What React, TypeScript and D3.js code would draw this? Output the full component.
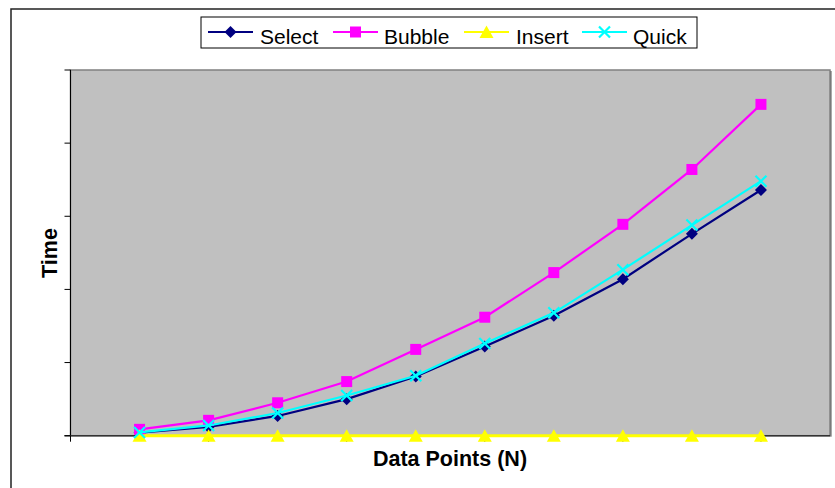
import React from "react";
import * as d3 from "d3";

const xValues = [1, 2, 3, 4, 5, 6, 7, 8, 9, 10];
const selectValues = [0.04, 0.12, 0.27, 0.5, 0.81, 1.22, 1.64, 2.14, 2.76, 3.36];
const bubbleValues = [0.087, 0.21, 0.45, 0.74, 1.18, 1.62, 2.23, 2.89, 3.64, 4.53];
const insertValues = [0, 0, 0, 0, 0, 0, 0, 0, 0, 0];
const quickValues = [0.045, 0.14, 0.31, 0.55, 0.82, 1.26, 1.68, 2.27, 2.88, 3.48];
const xTicks = [0, 2, 4, 6, 8, 10];
const yTicks = [0, 1, 2, 3, 4, 5];
const seriesNames = ["Select", "Bubble", "Insert", "Quick"];

const W = 835;
const H = 488;
const plot = { left: 70.5, top: 70, right: 830, bottom: 435.7 };

type Series = { name: string; values: number[]; color: string; marker: string };

const series: Series[] = [
  { name: seriesNames[0], values: selectValues, color: "#000080", marker: "diamond" },
  { name: seriesNames[1], values: bubbleValues, color: "#FF00FF", marker: "square" },
  { name: seriesNames[2], values: insertValues, color: "#FFFF00", marker: "triangle" },
  { name: seriesNames[3], values: quickValues, color: "#00FFFF", marker: "x" },
];

function Marker({ kind, x, y, color }: { kind: string; x: number; y: number; color: string }) {
  if (kind === "diamond") {
    const s = 6;
    return <path d={`M${x},${y - s}L${x + s},${y}L${x},${y + s}L${x - s},${y}Z`} fill={color} />;
  }
  if (kind === "square") {
    const s = 5.5;
    return <rect x={x - s} y={y - s} width={2 * s} height={2 * s} fill={color} />;
  }
  if (kind === "triangle") {
    return <path d={`M${x},${y - 6.5}L${x + 7},${y + 6}L${x - 7},${y + 6}Z`} fill={color} />;
  }
  const s = 5.5;
  return (
    <path
      d={`M${x - s},${y - s}L${x + s},${y + s}M${x - s},${y + s}L${x + s},${y - s}`}
      stroke={color}
      strokeWidth={2.2}
      fill="none"
    />
  );
}

export default function App() {
  const x = d3.scaleLinear().domain([0, 11]).range([plot.left, plot.right]);
  const y = d3.scaleLinear().domain([0, 5]).range([plot.bottom, plot.top]);
  const line = d3
    .line<number>()
    .x((_, i) => x(xValues[i]))
    .y((d) => y(d));

  const legendItems = [
    { lx: 208, tx: 260 },
    { lx: 333, tx: 384 },
    { lx: 464, tx: 516 },
    { lx: 582, tx: 633 },
  ];

  return (
    <svg
      width={W}
      height={H}
      style={{ position: "absolute", left: 0, top: 0, display: "block" }}
      fontFamily="'Liberation Sans', Arial, sans-serif"
    >
      <rect x={0} y={0} width={W} height={H} fill="#ffffff" />
      <rect x={11} y={9} width={W + 20} height={H + 20} fill="#ffffff" stroke="#222" strokeWidth={1.5} />
      {/* plot area */}
      <rect
        x={plot.left}
        y={plot.top}
        width={plot.right - plot.left}
        height={plot.bottom - plot.top}
        fill="#C0C0C0"
        stroke="#808080"
        strokeWidth={1.5}
      />
      <line x1={plot.right + 1} y1={plot.top + 1} x2={plot.right + 1} y2={plot.bottom + 1} stroke="#555" strokeWidth={1} />
      {/* axes */}
      <line x1={plot.left} y1={plot.top} x2={plot.left} y2={plot.bottom} stroke="#000" strokeWidth={1} />
      <line x1={plot.left - 6} y1={plot.bottom} x2={plot.right} y2={plot.bottom} stroke="#333" strokeWidth={1.5} />
      {yTicks.map((t) => (
        <line key={"yt" + t} x1={plot.left - 6} x2={plot.left} y1={y(t)} y2={y(t)} stroke="#000" strokeWidth={1} />
      ))}
      {xTicks.map((t) => (
        <line key={"xt" + t} x1={x(t)} x2={x(t)} y1={plot.bottom} y2={plot.bottom + 6} stroke="#000" strokeWidth={1} />
      ))}
      {/* series */}
      {series.map((s) => (
        <g key={s.name}>
          <path
            d={line(s.values) || ""}
            fill="none"
            stroke={s.color}
            strokeWidth={s.marker === "triangle" ? 3 : 2.2}
          />
          {s.values.map((v, i) => (
            <Marker key={i} kind={s.marker} x={x(xValues[i])} y={y(v)} color={s.color} />
          ))}
        </g>
      ))}
      {/* axis titles */}
      <text x={450} y={466} textAnchor="middle" fontWeight="bold" fontSize={21.5} fill="#000">
        Data Points (N)
      </text>
      <text
        transform="translate(57,253) rotate(-90)"
        textAnchor="middle"
        fontWeight="bold"
        fontSize={21.5}
        fill="#000"
      >
        Time
      </text>
      {/* legend */}
      <rect x={201} y={17} width={496} height={31} fill="#ffffff" stroke="#000" strokeWidth={1} />
      {series.map((s, i) => {
        const it = legendItems[i];
        return (
          <g key={"lg" + s.name}>
            <line x1={it.lx} x2={it.lx + 45} y1={32} y2={32} stroke={s.color} strokeWidth={2} />
            <Marker kind={s.marker} x={it.lx + 22.5} y={32} color={s.color} />
            <text x={it.tx} y={44} fontSize={21} fill="#000">
              {s.name}
            </text>
          </g>
        );
      })}
    </svg>
  );
}
